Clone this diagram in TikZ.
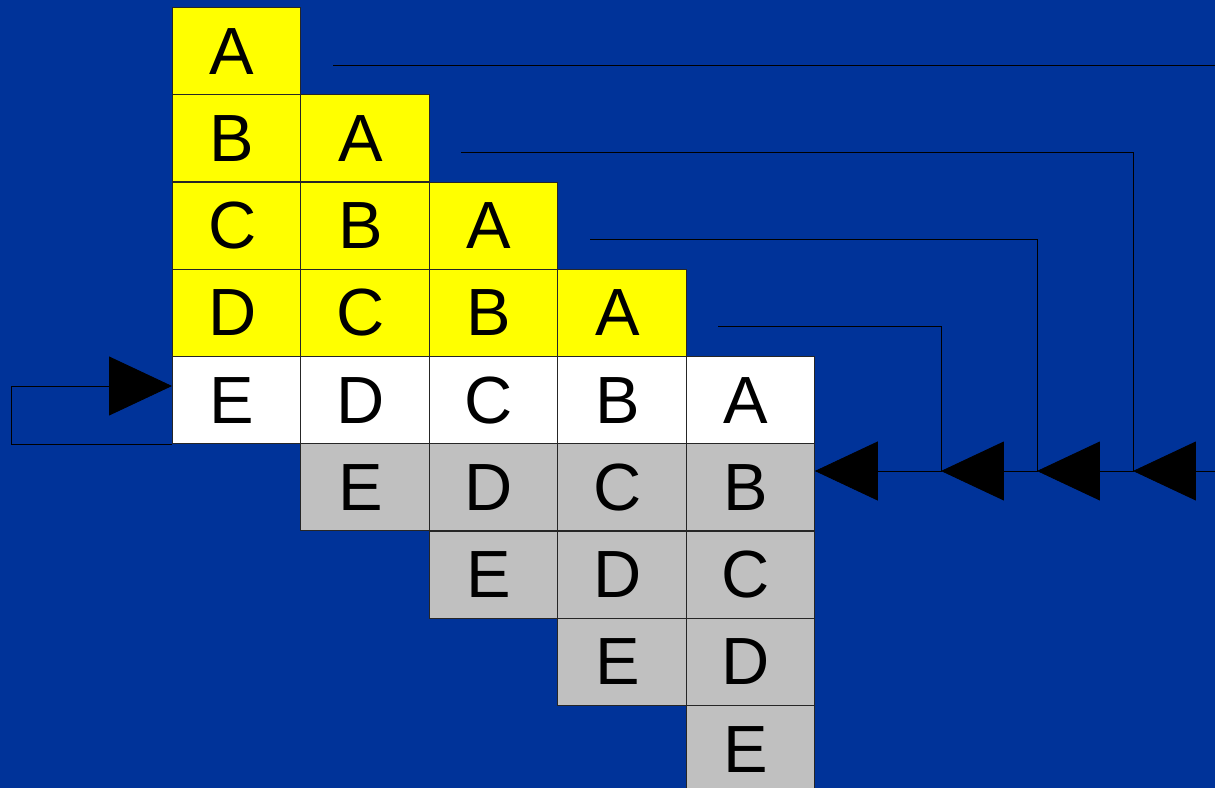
\documentclass[tikz,border=0pt]{standalone}
\usepackage{fontspec}
\setmainfont{Liberation Sans}
\usetikzlibrary{positioning,arrows.meta,calc}
\definecolor{bg}{HTML}{003399}
\definecolor{cellyel}{HTML}{FFFF00}
\definecolor{cellgry}{HTML}{C0C0C0}

\begin{document}
\begin{tikzpicture}[x=0.02cm, y=-0.02cm,
      cell/.style={draw=black!85, line width=0.5pt, anchor=north west,
      minimum width=2.568cm, minimum height=1.745cm, inner sep=0pt,
      font=\fontsize{38}{40}\selectfont},
      link/.style={-{Triangle[length=1.26cm, width=1.18cm]}, line width=0.5pt, black},
    ]
    \useasboundingbox (0,0) rectangle (1215,788);
    \clip (0,0) rectangle (1215,788);
    \fill[bg] (0,0) rectangle (1215,788);

    % Cells
    \foreach \c in {0,...,4}{
      \foreach \l [count=\i from 0] in {A,B,C,D,E}{
        \pgfmathtruncatemacro\r{\c+\i}
        \ifnum\r<4 \def\fc{cellyel}\else\ifnum\r=4 \def\fc{white}\else\def\fc{cellgry}\fi\fi
        \node[cell, fill=\fc] (c\c r\r) at ({172+128.4*\c},{7+87.25*\r}) {\l\kern0.18cm};
      }
    }

    % Feedback lines
    \coordinate (s0) at (333,65);
    \coordinate (s1) at (461,152);
    \coordinate (s2) at (590,239);
    \coordinate (s3) at (718,326);
    \coordinate (j0) at (1240,471);
    \coordinate (j1) at (1133,471);
    \coordinate (j2) at (1037,471);
    \coordinate (j3) at (941,471);
    \coordinate (q) at (c4r5.north east |- j3);
    \draw[link] (s0) -| (j0) -- (j1);
    \draw[link] (s1) -| (j1) -- (j2);
    \draw[link] (s2) -| (j2) -- (j3);
    \draw[link] (s3) -| (j3) -- (q);

    % Loop
    \coordinate (p) at ($(c0r4.north west)+(0,30)$);
    \coordinate (l) at ($(p)+(-161,0)$);
    \draw[link] (c0r4.south west) -| (l) -- (p);
  \end{tikzpicture}
\end{document}
